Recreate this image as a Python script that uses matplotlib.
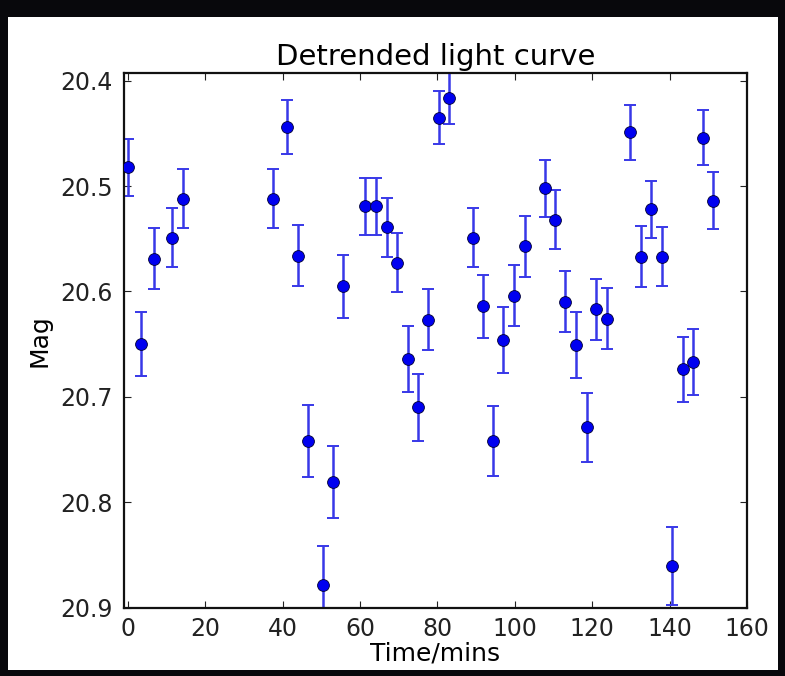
import numpy as np
import matplotlib
matplotlib.use('Agg')
from matplotlib import pyplot as plt
from matplotlib.patches import Rectangle

# Time of each observation (minutes)
time_mins = [0.0, 3.3, 6.8, 11.3, 14.2, 37.6, 41.0, 43.9, 46.6, 50.3,
             53.1, 55.7, 61.4, 64.2, 67.0, 69.6, 72.3, 75.0, 77.6, 80.4,
             83.0, 89.1, 91.7, 94.4, 97.0, 99.7, 102.5, 107.7, 110.4, 113.0,
             115.8, 118.6, 121.1, 123.9, 129.7, 132.5, 135.2, 138.0, 140.5, 143.4,
             146.0, 148.6, 151.3]

# Detrended magnitude
mag = [20.482, 20.650, 20.569, 20.549, 20.512, 20.512, 20.444, 20.566, 20.742, 20.879,
       20.781, 20.595, 20.519, 20.519, 20.539, 20.573, 20.664, 20.710, 20.627, 20.435,
       20.416, 20.549, 20.614, 20.742, 20.646, 20.604, 20.557, 20.502, 20.532, 20.610,
       20.651, 20.729, 20.617, 20.626, 20.449, 20.567, 20.522, 20.567, 20.861, 20.674,
       20.667, 20.454, 20.514]

# Magnitude uncertainty
mag_err = [0.027, 0.030, 0.029, 0.028, 0.028, 0.028, 0.026, 0.029, 0.034, 0.037,
           0.034, 0.030, 0.027, 0.027, 0.028, 0.028, 0.031, 0.032, 0.029, 0.025,
           0.025, 0.028, 0.030, 0.033, 0.031, 0.029, 0.029, 0.027, 0.028, 0.029,
           0.031, 0.033, 0.029, 0.029, 0.026, 0.029, 0.027, 0.028, 0.037, 0.031,
           0.031, 0.026, 0.027]

x_ticks = [0, 20, 40, 60, 80, 100, 120, 140, 160]
y_ticks = [20.4, 20.5, 20.6, 20.7, 20.8, 20.9]

fig = plt.figure(figsize=(7.85, 6.76), dpi=100)
fig.patch.set_facecolor('#08080c')

# white panel the plot sits on (behind the axes)
panel = Rectangle((8 / 785, 1 - 670 / 676), 770 / 785, 653 / 676,
                  transform=fig.transFigure, facecolor='white',
                  edgecolor='none', zorder=-10)
fig.patches.append(panel)

ax = fig.add_axes([124 / 785, 1 - 607.5 / 676, 623 / 785, 534.2 / 676])
ax.set_zorder(1)
ax.set_facecolor('white')

ax.errorbar(time_mins, mag, yerr=mag_err, fmt='none', ecolor='#3838e8',
            elinewidth=1.8, capsize=4, capthick=1.4, zorder=2)
ax.plot(time_mins, mag, 'o', color='#0000f0', markersize=8.5,
        markeredgecolor='#000033', markeredgewidth=0.6, zorder=3)

ax.set_xlim(-1, 160)
ax.set_ylim(20.9, 20.393)
ax.set_xticks(x_ticks)
ax.set_yticks(y_ticks)
ax.set_yticklabels(['%.1f' % t for t in y_ticks])

ax.tick_params(direction='in', top=True, right=True, length=5, width=0.8,
               labelsize=17, colors='#222222')
ax.tick_params(axis='y', pad=8)
ax.tick_params(axis='x', pad=7)
for s in ax.spines.values():
    s.set_linewidth(1.6)
    s.set_color('#111111')

ax.set_title('Detrended light curve', fontsize=21, pad=6)
ax.set_xlabel('Time/mins', fontsize=18, labelpad=0)
ax.set_ylabel('Mag', fontsize=18, labelpad=6)

fig.savefig('out.png', dpi=100, facecolor=fig.get_facecolor())
